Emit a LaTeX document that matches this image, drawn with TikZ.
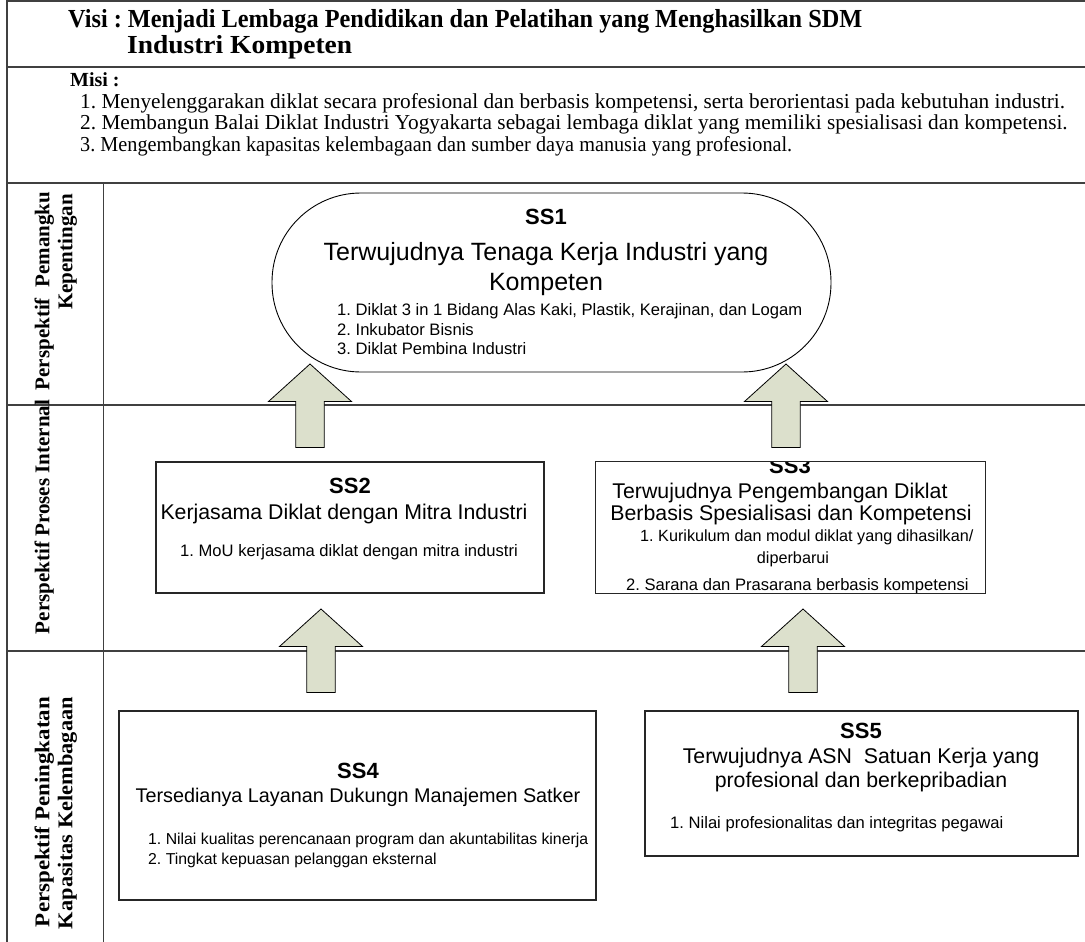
\documentclass[tikz,border=0pt]{standalone}
\usepackage{fontspec}
\setmainfont{Liberation Serif}
\setsansfont{Liberation Sans}
\usepackage{graphicx}
\definecolor{arrowfill}{RGB}{220,224,204}
\definecolor{linegray}{RGB}{64,64,64}
\newcommand\fs[1]{\fontsize{#1}{#1}\selectfont}
\newcommand\upblock[3]{\draw[blockarrow] (#2,#3) coordinate (#1) -- ++(41.5,37.5) -- ++(-27.25,0) -- ++(0,46) -- ++(-28.5,0) -- ++(0,-46) -- ++(-27.25,0) -- cycle;}
\frenchspacing
\begin{document}
\begin{tikzpicture}[x=1pt,y=-1pt,
  frameline/.style={draw=linegray, line width=2pt},
  thinline/.style={draw=linegray, line width=1pt},
  ssbox/.style={draw=black!85, line width=1.1pt, fill=white, inner sep=0pt},
  blockarrow/.style={draw=black, line width=0.8pt, fill=arrowfill},
  sshead/.style={font=\sffamily\bfseries\fs{22}, anchor=base, inner sep=0pt},
  sstitle/.style={font=\sffamily\fs{21.3}, anchor=base, inner sep=0pt},
  ssitem/.style={font=\sffamily\fs{16.6}, anchor=base west, inner sep=0pt},
  lbl/.style={font=\bfseries\fs{21}, rotate=90, inner sep=0pt, anchor=mid},
  misitem/.style={font=\fs{21.3}, anchor=base west, inner sep=0pt},
]
\useasboundingbox (0,0) rectangle (1085,942);
% frame
\draw[frameline] (6,1) -- (1085,1);
\draw[frameline] (7,0) -- (7,942);
\draw[frameline] (7,67) -- (1085,67);
\draw[frameline] (7,183) -- (1085,183);
\draw[thinline] (103,183) -- (103,942);
\draw[frameline] (7,405) -- (1085,405);
\draw[frameline] (7,651) -- (1085,651);
% header
\node[font=\bfseries\fs{26}, anchor=base west, inner sep=0pt] (visi1) at (68,28)
  {\resizebox{794pt}{\height}{Visi : Menjadi Lembaga Pendidikan dan Pelatihan yang Menghasilkan SDM}};
\node[font=\bfseries\fs{26}, anchor=base west, inner sep=0pt] (visi2) at (127,53)
  {\resizebox{225pt}{\height}{Industri Kompeten}};
\node[font=\bfseries\fs{20}, anchor=base west, inner sep=0pt] (misi) at (70,87) {Misi :};
\node[misitem] (m1) at (80,108) {1. Menyelenggarakan diklat secara profesional dan berbasis kompetensi, serta berorientasi pada kebutuhan industri.};
\node[misitem] (m2) at (80,129.5) {2. Membangun Balai Diklat Industri Yogyakarta sebagai lembaga diklat yang memiliki spesialisasi dan kompetensi.};
\node[misitem] (m3) at (80,151) {\resizebox{712pt}{\height}{3. Mengembangkan kapasitas kelembagaan dan sumber daya manusia yang profesional.}};
% row labels
\node[lbl] (p1a) at (47,291) {Perspektif\ \ Pemangku};
\node[lbl] (p1b) at (70,252) {Kepentingan};
\node[lbl] (p2) at (47,517) {Perspektif Proses Internal};
\node[lbl] (p3a) at (47,812) {\resizebox{230pt}{\height}{Perspektif Peningkatan}};
\node[lbl] (p3b) at (70,813) {\resizebox{232pt}{\height}{Kapasitas Kelembagaan}};
% SS1
\node[draw=black, line width=0.9pt, fill=white, minimum width=559pt, minimum height=179pt, rounded corners=89pt] (ss1) at (551.5,282.5) {};
\node[sshead] (ss1h) at (546,224) {SS1};
\node[font=\sffamily\fs{25}, anchor=base, inner sep=0pt] (ss1t1) at (546,260) {Terwujudnya Tenaga Kerja Industri yang};
\node[font=\sffamily\fs{25}, anchor=base, inner sep=0pt] (ss1t2) at (546,290) {Kompeten};
\node[ssitem] (ss1i1) at (337,315) {1. Diklat 3 in 1 Bidang Alas Kaki, Plastik, Kerajinan, dan Logam};
\node[ssitem] (ss1i2) at (337,335) {2. Inkubator Bisnis};
\node[ssitem] (ss1i3) at (337,354) {3. Diklat Pembina Industri};
% SS2
\node[ssbox, minimum width=388pt, minimum height=131pt] (ss2) at (350,527.5) {};
\node[sshead] (ss2h) at (350,493) {SS2};
\node[sstitle] (ss2t) at (344,519) {Kerjasama Diklat dengan Mitra Industri};
\node[font=\sffamily\fs{16.6}, anchor=base, inner sep=0pt] (ss2i) at (349,556) {1. MoU kerjasama diklat dengan mitra industri};
% SS3
\node[ssbox, draw=none, minimum width=389pt, minimum height=131pt] (ss3) at (790.5,527.5) {};
\begin{scope}
\clip (596,462) rectangle (985,593);
\node[sshead] (ss3h) at (790,473) {SS3};
\node[sstitle] (ss3t1) at (780,498) {Terwujudnya Pengembangan Diklat};
\node[sstitle] (ss3t2) at (791,520) {Berbasis Spesialisasi dan Kompetensi};
\node[font=\sffamily\fs{16.2}, anchor=base west, inner sep=0pt] (ss3i1) at (640,541) {1. Kurikulum dan modul diklat yang dihasilkan/};
\node[font=\sffamily\fs{16.2}, anchor=base, inner sep=0pt] (ss3i1b) at (793,563) {diperbarui};
\node[ssitem] (ss3i2) at (626,590) {2. Sarana dan Prasarana berbasis kompetensi};
\end{scope}
\draw[draw=black!85, line width=1.1pt] (ss3.north west) rectangle (ss3.south east);
% SS4
\node[ssbox, minimum width=477pt, minimum height=189pt] (ss4) at (357.5,805.5) {};
\node[sshead] (ss4h) at (358,778) {SS4};
\node[font=\sffamily\fs{19.8}, anchor=base, inner sep=0pt] (ss4t) at (358,802) {Tersedianya Layanan Dukungn Manajemen Satker};
\node[font=\sffamily\fs{15.8}, anchor=base west, inner sep=0pt] (ss4i1) at (148,844) {1. Nilai kualitas perencanaan program dan akuntabilitas kinerja};
\node[font=\sffamily\fs{15.8}, anchor=base west, inner sep=0pt] (ss4i2) at (148,864) {2. Tingkat kepuasan pelanggan eksternal};
% SS5
\node[ssbox, minimum width=433pt, minimum height=145pt] (ss5) at (861.5,783.5) {};
\node[sshead] (ss5h) at (861,738) {SS5};
\node[sstitle] (ss5t1) at (861,763) {Terwujudnya ASN\ \ Satuan Kerja yang};
\node[sstitle] (ss5t2) at (861,787) {profesional dan berkepribadian};
\node[ssitem] (ss5i) at (670,828) {1. Nilai profesionalitas dan integritas pegawai};
% block arrows
\upblock{a1}{310}{364}
\upblock{a2}{786}{364}
\upblock{a3}{321}{609}
\upblock{a4}{803}{609}
\end{tikzpicture}
\end{document}
